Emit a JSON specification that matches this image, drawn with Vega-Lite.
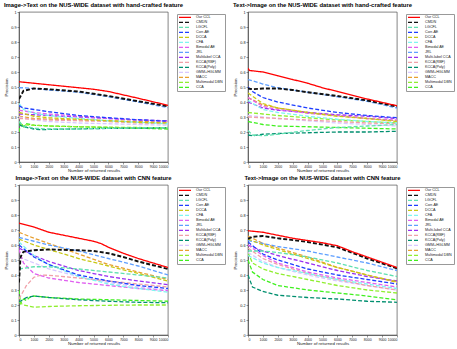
{
"$schema": "https://vega.github.io/schema/vega-lite/v6.json",
"padding": {"left": 3, "top": 1, "right": 0, "bottom": 0},
"background": "white",
"bounds": "flush",
"config": {
  "font": "Liberation Sans",
  "view": {"stroke": "#333", "strokeWidth": 0.6},
  "axis": {"grid": false, "labelFontSize": 3.8, "titleFontSize": 4.4, "titleFontWeight": "normal", "tickSize": 2, "tickColor": "#333", "domainColor": "#333", "labelColor": "#222", "titleColor": "#222", "labelPadding": 1, "titlePadding": 2, "domainWidth": 0.6, "tickWidth": 0.5, "labelOverlap": false},
  "axisX": {"labelFontSize": 3.5, "labelPadding": 0.5, "titlePadding": 0.5},
  "title": {"fontSize": 5.9, "fontWeight": "bold", "offset": 2, "color": "#000"},
  "legend": {"orient": "none", "legendX": 158, "legendY": 2, "padding": 1.5, "strokeColor": "#999", "fillColor": "white", "labelFontSize": 3.7, "symbolSize": 16, "symbolType": "M-3,0H3", "symbolOffset": 3.5, "labelOffset": 8, "symbolStrokeWidth": 1.4, "rowPadding": 0, "clipHeight": 3.7, "labelColor": "#222"}
},
"data": {"values": [
{"p":1,"s":"CCA","x":0,"y":0.20},{"p":1,"s":"CCA","x":100,"y":0.26},{"p":1,"s":"CCA","x":300,"y":0.235},{"p":1,"s":"CCA","x":500,"y":0.255},{"p":1,"s":"CCA","x":1000,"y":0.245},{"p":1,"s":"CCA","x":2000,"y":0.24},{"p":1,"s":"CCA","x":4000,"y":0.235},{"p":1,"s":"CCA","x":6000,"y":0.23},{"p":1,"s":"CCA","x":8000,"y":0.225},{"p":1,"s":"CCA","x":10000,"y":0.22},
{"p":1,"s":"Multimodal DBN","x":0,"y":0.25},{"p":1,"s":"Multimodal DBN","x":1000,"y":0.245},{"p":1,"s":"Multimodal DBN","x":2000,"y":0.24},{"p":1,"s":"Multimodal DBN","x":4000,"y":0.235},{"p":1,"s":"Multimodal DBN","x":6000,"y":0.232},{"p":1,"s":"Multimodal DBN","x":8000,"y":0.23},{"p":1,"s":"Multimodal DBN","x":10000,"y":0.228},
{"p":1,"s":"MACC","x":0,"y":0.305},{"p":1,"s":"MACC","x":1000,"y":0.29},{"p":1,"s":"MACC","x":2000,"y":0.285},{"p":1,"s":"MACC","x":4000,"y":0.28},{"p":1,"s":"MACC","x":6000,"y":0.275},{"p":1,"s":"MACC","x":8000,"y":0.27},{"p":1,"s":"MACC","x":10000,"y":0.265},
{"p":1,"s":"GMM+HGLMM","x":0,"y":0.30},{"p":1,"s":"GMM+HGLMM","x":1000,"y":0.28},{"p":1,"s":"GMM+HGLMM","x":2000,"y":0.27},{"p":1,"s":"GMM+HGLMM","x":4000,"y":0.26},{"p":1,"s":"GMM+HGLMM","x":6000,"y":0.255},{"p":1,"s":"GMM+HGLMM","x":8000,"y":0.25},{"p":1,"s":"GMM+HGLMM","x":10000,"y":0.245},
{"p":1,"s":"KCCA(Poly)","x":0,"y":0.25},{"p":1,"s":"KCCA(Poly)","x":300,"y":0.235},{"p":1,"s":"KCCA(Poly)","x":1000,"y":0.22},{"p":1,"s":"KCCA(Poly)","x":1500,"y":0.215},{"p":1,"s":"KCCA(Poly)","x":2000,"y":0.217},{"p":1,"s":"KCCA(Poly)","x":4000,"y":0.221},{"p":1,"s":"KCCA(Poly)","x":6000,"y":0.224},{"p":1,"s":"KCCA(Poly)","x":8000,"y":0.226},{"p":1,"s":"KCCA(Poly)","x":10000,"y":0.228},
{"p":1,"s":"KCCA(RBF)","x":0,"y":0.29},{"p":1,"s":"KCCA(RBF)","x":1000,"y":0.285},{"p":1,"s":"KCCA(RBF)","x":2000,"y":0.28},{"p":1,"s":"KCCA(RBF)","x":4000,"y":0.275},{"p":1,"s":"KCCA(RBF)","x":6000,"y":0.27},{"p":1,"s":"KCCA(RBF)","x":8000,"y":0.26},{"p":1,"s":"KCCA(RBF)","x":10000,"y":0.255},
{"p":1,"s":"Multi-label CCA","x":0,"y":0.32},{"p":1,"s":"Multi-label CCA","x":1000,"y":0.315},{"p":1,"s":"Multi-label CCA","x":2000,"y":0.31},{"p":1,"s":"Multi-label CCA","x":4000,"y":0.30},{"p":1,"s":"Multi-label CCA","x":6000,"y":0.29},{"p":1,"s":"Multi-label CCA","x":8000,"y":0.28},{"p":1,"s":"Multi-label CCA","x":10000,"y":0.275},
{"p":1,"s":"JRL","x":0,"y":0.495},{"p":1,"s":"JRL","x":300,"y":0.495},{"p":1,"s":"JRL","x":1000,"y":0.49},{"p":1,"s":"JRL","x":2000,"y":0.48},{"p":1,"s":"JRL","x":4000,"y":0.465},{"p":1,"s":"JRL","x":6000,"y":0.435},{"p":1,"s":"JRL","x":8000,"y":0.40},{"p":1,"s":"JRL","x":10000,"y":0.362},
{"p":1,"s":"Bimodal AE","x":0,"y":0.345},{"p":1,"s":"Bimodal AE","x":1000,"y":0.33},{"p":1,"s":"Bimodal AE","x":2000,"y":0.32},{"p":1,"s":"Bimodal AE","x":4000,"y":0.305},{"p":1,"s":"Bimodal AE","x":6000,"y":0.29},{"p":1,"s":"Bimodal AE","x":8000,"y":0.28},{"p":1,"s":"Bimodal AE","x":10000,"y":0.27},
{"p":1,"s":"CFA","x":0,"y":0.39},{"p":1,"s":"CFA","x":300,"y":0.35},{"p":1,"s":"CFA","x":1000,"y":0.325},{"p":1,"s":"CFA","x":2000,"y":0.31},{"p":1,"s":"CFA","x":4000,"y":0.29},{"p":1,"s":"CFA","x":6000,"y":0.275},{"p":1,"s":"CFA","x":8000,"y":0.265},{"p":1,"s":"CFA","x":10000,"y":0.255},
{"p":1,"s":"DCCA","x":0,"y":0.33},{"p":1,"s":"DCCA","x":1000,"y":0.305},{"p":1,"s":"DCCA","x":2000,"y":0.295},{"p":1,"s":"DCCA","x":4000,"y":0.285},{"p":1,"s":"DCCA","x":6000,"y":0.275},{"p":1,"s":"DCCA","x":8000,"y":0.265},{"p":1,"s":"DCCA","x":10000,"y":0.26},
{"p":1,"s":"Corr-AE","x":0,"y":0.375},{"p":1,"s":"Corr-AE","x":300,"y":0.36},{"p":1,"s":"Corr-AE","x":1000,"y":0.35},{"p":1,"s":"Corr-AE","x":2000,"y":0.335},{"p":1,"s":"Corr-AE","x":4000,"y":0.31},{"p":1,"s":"Corr-AE","x":6000,"y":0.295},{"p":1,"s":"Corr-AE","x":8000,"y":0.282},{"p":1,"s":"Corr-AE","x":10000,"y":0.272},
{"p":1,"s":"LGCFL","x":0,"y":0.27},{"p":1,"s":"LGCFL","x":300,"y":0.24},{"p":1,"s":"LGCFL","x":1000,"y":0.225},{"p":1,"s":"LGCFL","x":2000,"y":0.22},{"p":1,"s":"LGCFL","x":4000,"y":0.22},{"p":1,"s":"LGCFL","x":6000,"y":0.225},{"p":1,"s":"LGCFL","x":8000,"y":0.228},{"p":1,"s":"LGCFL","x":10000,"y":0.23},
{"p":1,"s":"CMDN","x":0,"y":0.42},{"p":1,"s":"CMDN","x":300,"y":0.475},{"p":1,"s":"CMDN","x":1000,"y":0.49},{"p":1,"s":"CMDN","x":2000,"y":0.485},{"p":1,"s":"CMDN","x":4000,"y":0.47},{"p":1,"s":"CMDN","x":6000,"y":0.44},{"p":1,"s":"CMDN","x":8000,"y":0.405},{"p":1,"s":"CMDN","x":10000,"y":0.372},
{"p":1,"s":"Our CCL","x":0,"y":0.535},{"p":1,"s":"Our CCL","x":1000,"y":0.525},{"p":1,"s":"Our CCL","x":2000,"y":0.515},{"p":1,"s":"Our CCL","x":4000,"y":0.495},{"p":1,"s":"Our CCL","x":5000,"y":0.485},{"p":1,"s":"Our CCL","x":6000,"y":0.47},{"p":1,"s":"Our CCL","x":8000,"y":0.425},{"p":1,"s":"Our CCL","x":10000,"y":0.378},

{"p":2,"s":"CCA","x":0,"y":0.27},{"p":2,"s":"CCA","x":1000,"y":0.25},{"p":2,"s":"CCA","x":2000,"y":0.24},{"p":2,"s":"CCA","x":4000,"y":0.235},{"p":2,"s":"CCA","x":6000,"y":0.23},{"p":2,"s":"CCA","x":8000,"y":0.225},{"p":2,"s":"CCA","x":10000,"y":0.22},
{"p":2,"s":"Multimodal DBN","x":0,"y":0.33},{"p":2,"s":"Multimodal DBN","x":1000,"y":0.32},{"p":2,"s":"Multimodal DBN","x":2000,"y":0.31},{"p":2,"s":"Multimodal DBN","x":4000,"y":0.295},{"p":2,"s":"Multimodal DBN","x":6000,"y":0.28},{"p":2,"s":"Multimodal DBN","x":8000,"y":0.27},{"p":2,"s":"Multimodal DBN","x":10000,"y":0.26},
{"p":2,"s":"MACC","x":0,"y":0.43},{"p":2,"s":"MACC","x":1000,"y":0.38},{"p":2,"s":"MACC","x":2000,"y":0.36},{"p":2,"s":"MACC","x":4000,"y":0.33},{"p":2,"s":"MACC","x":6000,"y":0.31},{"p":2,"s":"MACC","x":8000,"y":0.29},{"p":2,"s":"MACC","x":10000,"y":0.275},
{"p":2,"s":"GMM+HGLMM","x":0,"y":0.31},{"p":2,"s":"GMM+HGLMM","x":1000,"y":0.30},{"p":2,"s":"GMM+HGLMM","x":2000,"y":0.29},{"p":2,"s":"GMM+HGLMM","x":4000,"y":0.275},{"p":2,"s":"GMM+HGLMM","x":6000,"y":0.26},{"p":2,"s":"GMM+HGLMM","x":8000,"y":0.25},{"p":2,"s":"GMM+HGLMM","x":10000,"y":0.24},
{"p":2,"s":"KCCA(Poly)","x":0,"y":0.18},{"p":2,"s":"KCCA(Poly)","x":300,"y":0.175},{"p":2,"s":"KCCA(Poly)","x":1000,"y":0.185},{"p":2,"s":"KCCA(Poly)","x":2000,"y":0.19},{"p":2,"s":"KCCA(Poly)","x":4000,"y":0.195},{"p":2,"s":"KCCA(Poly)","x":6000,"y":0.20},{"p":2,"s":"KCCA(Poly)","x":8000,"y":0.20},{"p":2,"s":"KCCA(Poly)","x":10000,"y":0.205},
{"p":2,"s":"KCCA(RBF)","x":0,"y":0.30},{"p":2,"s":"KCCA(RBF)","x":1000,"y":0.295},{"p":2,"s":"KCCA(RBF)","x":2000,"y":0.29},{"p":2,"s":"KCCA(RBF)","x":4000,"y":0.28},{"p":2,"s":"KCCA(RBF)","x":6000,"y":0.27},{"p":2,"s":"KCCA(RBF)","x":8000,"y":0.26},{"p":2,"s":"KCCA(RBF)","x":10000,"y":0.255},
{"p":2,"s":"Multi-label CCA","x":0,"y":0.40},{"p":2,"s":"Multi-label CCA","x":1000,"y":0.36},{"p":2,"s":"Multi-label CCA","x":2000,"y":0.345},{"p":2,"s":"Multi-label CCA","x":4000,"y":0.33},{"p":2,"s":"Multi-label CCA","x":6000,"y":0.315},{"p":2,"s":"Multi-label CCA","x":8000,"y":0.305},{"p":2,"s":"Multi-label CCA","x":10000,"y":0.29},
{"p":2,"s":"JRL","x":0,"y":0.55},{"p":2,"s":"JRL","x":1000,"y":0.52},{"p":2,"s":"JRL","x":2000,"y":0.495},{"p":2,"s":"JRL","x":4000,"y":0.465},{"p":2,"s":"JRL","x":6000,"y":0.435},{"p":2,"s":"JRL","x":8000,"y":0.405},{"p":2,"s":"JRL","x":10000,"y":0.36},
{"p":2,"s":"Bimodal AE","x":0,"y":0.43},{"p":2,"s":"Bimodal AE","x":1000,"y":0.37},{"p":2,"s":"Bimodal AE","x":2000,"y":0.35},{"p":2,"s":"Bimodal AE","x":4000,"y":0.325},{"p":2,"s":"Bimodal AE","x":6000,"y":0.31},{"p":2,"s":"Bimodal AE","x":8000,"y":0.29},{"p":2,"s":"Bimodal AE","x":10000,"y":0.28},
{"p":2,"s":"CFA","x":0,"y":0.41},{"p":2,"s":"CFA","x":1000,"y":0.35},{"p":2,"s":"CFA","x":2000,"y":0.33},{"p":2,"s":"CFA","x":4000,"y":0.305},{"p":2,"s":"CFA","x":6000,"y":0.285},{"p":2,"s":"CFA","x":8000,"y":0.27},{"p":2,"s":"CFA","x":10000,"y":0.26},
{"p":2,"s":"DCCA","x":0,"y":0.46},{"p":2,"s":"DCCA","x":1000,"y":0.39},{"p":2,"s":"DCCA","x":2000,"y":0.36},{"p":2,"s":"DCCA","x":4000,"y":0.33},{"p":2,"s":"DCCA","x":6000,"y":0.305},{"p":2,"s":"DCCA","x":8000,"y":0.29},{"p":2,"s":"DCCA","x":10000,"y":0.27},
{"p":2,"s":"Corr-AE","x":0,"y":0.50},{"p":2,"s":"Corr-AE","x":300,"y":0.47},{"p":2,"s":"Corr-AE","x":1000,"y":0.43},{"p":2,"s":"Corr-AE","x":2000,"y":0.40},{"p":2,"s":"Corr-AE","x":4000,"y":0.36},{"p":2,"s":"Corr-AE","x":6000,"y":0.33},{"p":2,"s":"Corr-AE","x":8000,"y":0.31},{"p":2,"s":"Corr-AE","x":10000,"y":0.295},
{"p":2,"s":"LGCFL","x":0,"y":0.21},{"p":2,"s":"LGCFL","x":300,"y":0.18},{"p":2,"s":"LGCFL","x":1000,"y":0.175},{"p":2,"s":"LGCFL","x":2000,"y":0.185},{"p":2,"s":"LGCFL","x":4000,"y":0.21},{"p":2,"s":"LGCFL","x":6000,"y":0.23},{"p":2,"s":"LGCFL","x":8000,"y":0.24},{"p":2,"s":"LGCFL","x":10000,"y":0.25},
{"p":2,"s":"CMDN","x":0,"y":0.49},{"p":2,"s":"CMDN","x":300,"y":0.485},{"p":2,"s":"CMDN","x":1000,"y":0.49},{"p":2,"s":"CMDN","x":2000,"y":0.49},{"p":2,"s":"CMDN","x":3000,"y":0.48},{"p":2,"s":"CMDN","x":4000,"y":0.465},{"p":2,"s":"CMDN","x":6000,"y":0.44},{"p":2,"s":"CMDN","x":8000,"y":0.41},{"p":2,"s":"CMDN","x":10000,"y":0.37},
{"p":2,"s":"Our CCL","x":0,"y":0.625},{"p":2,"s":"Our CCL","x":100,"y":0.61},{"p":2,"s":"Our CCL","x":1000,"y":0.60},{"p":2,"s":"Our CCL","x":2000,"y":0.575},{"p":2,"s":"Our CCL","x":3000,"y":0.55},{"p":2,"s":"Our CCL","x":4000,"y":0.525},{"p":2,"s":"Our CCL","x":5000,"y":0.495},{"p":2,"s":"Our CCL","x":6000,"y":0.47},{"p":2,"s":"Our CCL","x":8000,"y":0.42},{"p":2,"s":"Our CCL","x":10000,"y":0.375},

{"p":3,"s":"CCA","x":0,"y":0.30},{"p":3,"s":"CCA","x":100,"y":0.21},{"p":3,"s":"CCA","x":300,"y":0.24},{"p":3,"s":"CCA","x":500,"y":0.23},{"p":3,"s":"CCA","x":700,"y":0.25},{"p":3,"s":"CCA","x":1000,"y":0.26},{"p":3,"s":"CCA","x":2000,"y":0.25},{"p":3,"s":"CCA","x":4000,"y":0.24},{"p":3,"s":"CCA","x":6000,"y":0.235},{"p":3,"s":"CCA","x":8000,"y":0.23},{"p":3,"s":"CCA","x":10000,"y":0.225},
{"p":3,"s":"Multimodal DBN","x":0,"y":0.22},{"p":3,"s":"Multimodal DBN","x":300,"y":0.20},{"p":3,"s":"Multimodal DBN","x":1000,"y":0.185},{"p":3,"s":"Multimodal DBN","x":2000,"y":0.19},{"p":3,"s":"Multimodal DBN","x":4000,"y":0.195},{"p":3,"s":"Multimodal DBN","x":6000,"y":0.198},{"p":3,"s":"Multimodal DBN","x":8000,"y":0.20},{"p":3,"s":"Multimodal DBN","x":10000,"y":0.20},
{"p":3,"s":"MACC","x":0,"y":0.685},{"p":3,"s":"MACC","x":1000,"y":0.645},{"p":3,"s":"MACC","x":2000,"y":0.61},{"p":3,"s":"MACC","x":4000,"y":0.54},{"p":3,"s":"MACC","x":6000,"y":0.47},{"p":3,"s":"MACC","x":8000,"y":0.42},{"p":3,"s":"MACC","x":10000,"y":0.37},
{"p":3,"s":"GMM+HGLMM","x":0,"y":0.52},{"p":3,"s":"GMM+HGLMM","x":1000,"y":0.48},{"p":3,"s":"GMM+HGLMM","x":2000,"y":0.44},{"p":3,"s":"GMM+HGLMM","x":4000,"y":0.39},{"p":3,"s":"GMM+HGLMM","x":6000,"y":0.35},{"p":3,"s":"GMM+HGLMM","x":8000,"y":0.32},{"p":3,"s":"GMM+HGLMM","x":10000,"y":0.30},
{"p":3,"s":"KCCA(Poly)","x":0,"y":0.22},{"p":3,"s":"KCCA(Poly)","x":500,"y":0.25},{"p":3,"s":"KCCA(Poly)","x":1000,"y":0.26},{"p":3,"s":"KCCA(Poly)","x":2000,"y":0.25},{"p":3,"s":"KCCA(Poly)","x":4000,"y":0.235},{"p":3,"s":"KCCA(Poly)","x":6000,"y":0.225},{"p":3,"s":"KCCA(Poly)","x":8000,"y":0.218},{"p":3,"s":"KCCA(Poly)","x":10000,"y":0.215},
{"p":3,"s":"KCCA(RBF)","x":0,"y":0.24},{"p":3,"s":"KCCA(RBF)","x":500,"y":0.33},{"p":3,"s":"KCCA(RBF)","x":1000,"y":0.385},{"p":3,"s":"KCCA(RBF)","x":1500,"y":0.40},{"p":3,"s":"KCCA(RBF)","x":2000,"y":0.398},{"p":3,"s":"KCCA(RBF)","x":4000,"y":0.38},{"p":3,"s":"KCCA(RBF)","x":6000,"y":0.36},{"p":3,"s":"KCCA(RBF)","x":8000,"y":0.34},{"p":3,"s":"KCCA(RBF)","x":10000,"y":0.32},
{"p":3,"s":"Multi-label CCA","x":0,"y":0.58},{"p":3,"s":"Multi-label CCA","x":1000,"y":0.53},{"p":3,"s":"Multi-label CCA","x":2000,"y":0.49},{"p":3,"s":"Multi-label CCA","x":4000,"y":0.43},{"p":3,"s":"Multi-label CCA","x":6000,"y":0.39},{"p":3,"s":"Multi-label CCA","x":8000,"y":0.36},{"p":3,"s":"Multi-label CCA","x":10000,"y":0.335},
{"p":3,"s":"JRL","x":0,"y":0.65},{"p":3,"s":"JRL","x":1000,"y":0.625},{"p":3,"s":"JRL","x":2000,"y":0.60},{"p":3,"s":"JRL","x":4000,"y":0.56},{"p":3,"s":"JRL","x":6000,"y":0.51},{"p":3,"s":"JRL","x":8000,"y":0.46},{"p":3,"s":"JRL","x":10000,"y":0.40},
{"p":3,"s":"Bimodal AE","x":0,"y":0.57},{"p":3,"s":"Bimodal AE","x":300,"y":0.48},{"p":3,"s":"Bimodal AE","x":1000,"y":0.41},{"p":3,"s":"Bimodal AE","x":2000,"y":0.38},{"p":3,"s":"Bimodal AE","x":4000,"y":0.35},{"p":3,"s":"Bimodal AE","x":6000,"y":0.33},{"p":3,"s":"Bimodal AE","x":8000,"y":0.31},{"p":3,"s":"Bimodal AE","x":10000,"y":0.295},
{"p":3,"s":"CFA","x":0,"y":0.62},{"p":3,"s":"CFA","x":1000,"y":0.53},{"p":3,"s":"CFA","x":2000,"y":0.47},{"p":3,"s":"CFA","x":4000,"y":0.39},{"p":3,"s":"CFA","x":6000,"y":0.34},{"p":3,"s":"CFA","x":8000,"y":0.31},{"p":3,"s":"CFA","x":10000,"y":0.285},
{"p":3,"s":"DCCA","x":0,"y":0.64},{"p":3,"s":"DCCA","x":1000,"y":0.60},{"p":3,"s":"DCCA","x":2000,"y":0.57},{"p":3,"s":"DCCA","x":4000,"y":0.51},{"p":3,"s":"DCCA","x":6000,"y":0.46},{"p":3,"s":"DCCA","x":8000,"y":0.41},{"p":3,"s":"DCCA","x":10000,"y":0.36},
{"p":3,"s":"Corr-AE","x":0,"y":0.60},{"p":3,"s":"Corr-AE","x":1000,"y":0.52},{"p":3,"s":"Corr-AE","x":2000,"y":0.47},{"p":3,"s":"Corr-AE","x":4000,"y":0.40},{"p":3,"s":"Corr-AE","x":6000,"y":0.36},{"p":3,"s":"Corr-AE","x":8000,"y":0.33},{"p":3,"s":"Corr-AE","x":10000,"y":0.31},
{"p":3,"s":"LGCFL","x":0,"y":0.44},{"p":3,"s":"LGCFL","x":1000,"y":0.455},{"p":3,"s":"LGCFL","x":2000,"y":0.455},{"p":3,"s":"LGCFL","x":4000,"y":0.44},{"p":3,"s":"LGCFL","x":6000,"y":0.42},{"p":3,"s":"LGCFL","x":8000,"y":0.40},{"p":3,"s":"LGCFL","x":10000,"y":0.38},
{"p":3,"s":"CMDN","x":0,"y":0.35},{"p":3,"s":"CMDN","x":100,"y":0.52},{"p":3,"s":"CMDN","x":300,"y":0.555},{"p":3,"s":"CMDN","x":1000,"y":0.565},{"p":3,"s":"CMDN","x":2000,"y":0.57},{"p":3,"s":"CMDN","x":4000,"y":0.565},{"p":3,"s":"CMDN","x":5000,"y":0.56},{"p":3,"s":"CMDN","x":6000,"y":0.545},{"p":3,"s":"CMDN","x":7000,"y":0.52},{"p":3,"s":"CMDN","x":8000,"y":0.49},{"p":3,"s":"CMDN","x":9000,"y":0.465},{"p":3,"s":"CMDN","x":10000,"y":0.44},
{"p":3,"s":"Our CCL","x":0,"y":0.745},{"p":3,"s":"Our CCL","x":1000,"y":0.72},{"p":3,"s":"Our CCL","x":2000,"y":0.685},{"p":3,"s":"Our CCL","x":3000,"y":0.665},{"p":3,"s":"Our CCL","x":4000,"y":0.645},{"p":3,"s":"Our CCL","x":5000,"y":0.625},{"p":3,"s":"Our CCL","x":5500,"y":0.61},{"p":3,"s":"Our CCL","x":6000,"y":0.585},{"p":3,"s":"Our CCL","x":7000,"y":0.545},{"p":3,"s":"Our CCL","x":8000,"y":0.51},{"p":3,"s":"Our CCL","x":9000,"y":0.48},{"p":3,"s":"Our CCL","x":10000,"y":0.45},

{"p":4,"s":"CCA","x":0,"y":0.50},{"p":4,"s":"CCA","x":300,"y":0.42},{"p":4,"s":"CCA","x":1000,"y":0.37},{"p":4,"s":"CCA","x":2000,"y":0.33},{"p":4,"s":"CCA","x":4000,"y":0.30},{"p":4,"s":"CCA","x":6000,"y":0.28},{"p":4,"s":"CCA","x":8000,"y":0.26},{"p":4,"s":"CCA","x":10000,"y":0.235},
{"p":4,"s":"Multimodal DBN","x":0,"y":0.55},{"p":4,"s":"Multimodal DBN","x":300,"y":0.48},{"p":4,"s":"Multimodal DBN","x":1000,"y":0.44},{"p":4,"s":"Multimodal DBN","x":2000,"y":0.41},{"p":4,"s":"Multimodal DBN","x":4000,"y":0.37},{"p":4,"s":"Multimodal DBN","x":6000,"y":0.33},{"p":4,"s":"Multimodal DBN","x":8000,"y":0.30},{"p":4,"s":"Multimodal DBN","x":10000,"y":0.28},
{"p":4,"s":"MACC","x":0,"y":0.66},{"p":4,"s":"MACC","x":1000,"y":0.61},{"p":4,"s":"MACC","x":2000,"y":0.58},{"p":4,"s":"MACC","x":4000,"y":0.52},{"p":4,"s":"MACC","x":6000,"y":0.45},{"p":4,"s":"MACC","x":8000,"y":0.40},{"p":4,"s":"MACC","x":10000,"y":0.35},
{"p":4,"s":"GMM+HGLMM","x":0,"y":0.55},{"p":4,"s":"GMM+HGLMM","x":1000,"y":0.49},{"p":4,"s":"GMM+HGLMM","x":2000,"y":0.45},{"p":4,"s":"GMM+HGLMM","x":4000,"y":0.40},{"p":4,"s":"GMM+HGLMM","x":6000,"y":0.36},{"p":4,"s":"GMM+HGLMM","x":8000,"y":0.33},{"p":4,"s":"GMM+HGLMM","x":10000,"y":0.30},
{"p":4,"s":"KCCA(Poly)","x":0,"y":0.40},{"p":4,"s":"KCCA(Poly)","x":300,"y":0.32},{"p":4,"s":"KCCA(Poly)","x":1000,"y":0.29},{"p":4,"s":"KCCA(Poly)","x":2000,"y":0.265},{"p":4,"s":"KCCA(Poly)","x":4000,"y":0.25},{"p":4,"s":"KCCA(Poly)","x":6000,"y":0.24},{"p":4,"s":"KCCA(Poly)","x":8000,"y":0.225},{"p":4,"s":"KCCA(Poly)","x":10000,"y":0.218},
{"p":4,"s":"KCCA(RBF)","x":0,"y":0.58},{"p":4,"s":"KCCA(RBF)","x":1000,"y":0.51},{"p":4,"s":"KCCA(RBF)","x":2000,"y":0.47},{"p":4,"s":"KCCA(RBF)","x":4000,"y":0.41},{"p":4,"s":"KCCA(RBF)","x":6000,"y":0.37},{"p":4,"s":"KCCA(RBF)","x":8000,"y":0.33},{"p":4,"s":"KCCA(RBF)","x":10000,"y":0.30},
{"p":4,"s":"Multi-label CCA","x":0,"y":0.60},{"p":4,"s":"Multi-label CCA","x":1000,"y":0.56},{"p":4,"s":"Multi-label CCA","x":2000,"y":0.53},{"p":4,"s":"Multi-label CCA","x":4000,"y":0.48},{"p":4,"s":"Multi-label CCA","x":6000,"y":0.43},{"p":4,"s":"Multi-label CCA","x":8000,"y":0.39},{"p":4,"s":"Multi-label CCA","x":10000,"y":0.36},
{"p":4,"s":"JRL","x":0,"y":0.63},{"p":4,"s":"JRL","x":1000,"y":0.61},{"p":4,"s":"JRL","x":2000,"y":0.59},{"p":4,"s":"JRL","x":4000,"y":0.56},{"p":4,"s":"JRL","x":6000,"y":0.52},{"p":4,"s":"JRL","x":8000,"y":0.48},{"p":4,"s":"JRL","x":10000,"y":0.43},
{"p":4,"s":"Bimodal AE","x":0,"y":0.60},{"p":4,"s":"Bimodal AE","x":1000,"y":0.53},{"p":4,"s":"Bimodal AE","x":2000,"y":0.48},{"p":4,"s":"Bimodal AE","x":4000,"y":0.42},{"p":4,"s":"Bimodal AE","x":6000,"y":0.38},{"p":4,"s":"Bimodal AE","x":8000,"y":0.35},{"p":4,"s":"Bimodal AE","x":10000,"y":0.32},
{"p":4,"s":"CFA","x":0,"y":0.53},{"p":4,"s":"CFA","x":1000,"y":0.48},{"p":4,"s":"CFA","x":2000,"y":0.45},{"p":4,"s":"CFA","x":4000,"y":0.41},{"p":4,"s":"CFA","x":6000,"y":0.37},{"p":4,"s":"CFA","x":8000,"y":0.34},{"p":4,"s":"CFA","x":10000,"y":0.31},
{"p":4,"s":"DCCA","x":0,"y":0.64},{"p":4,"s":"DCCA","x":1000,"y":0.60},{"p":4,"s":"DCCA","x":2000,"y":0.57},{"p":4,"s":"DCCA","x":4000,"y":0.51},{"p":4,"s":"DCCA","x":6000,"y":0.45},{"p":4,"s":"DCCA","x":8000,"y":0.40},{"p":4,"s":"DCCA","x":10000,"y":0.355},
{"p":4,"s":"Corr-AE","x":0,"y":0.62},{"p":4,"s":"Corr-AE","x":1000,"y":0.54},{"p":4,"s":"Corr-AE","x":2000,"y":0.50},{"p":4,"s":"Corr-AE","x":4000,"y":0.44},{"p":4,"s":"Corr-AE","x":6000,"y":0.40},{"p":4,"s":"Corr-AE","x":8000,"y":0.37},{"p":4,"s":"Corr-AE","x":10000,"y":0.34},
{"p":4,"s":"LGCFL","x":0,"y":0.56},{"p":4,"s":"LGCFL","x":1000,"y":0.56},{"p":4,"s":"LGCFL","x":2000,"y":0.55},{"p":4,"s":"LGCFL","x":4000,"y":0.52},{"p":4,"s":"LGCFL","x":6000,"y":0.48},{"p":4,"s":"LGCFL","x":8000,"y":0.43},{"p":4,"s":"LGCFL","x":10000,"y":0.39},
{"p":4,"s":"CMDN","x":0,"y":0.64},{"p":4,"s":"CMDN","x":300,"y":0.655},{"p":4,"s":"CMDN","x":1000,"y":0.66},{"p":4,"s":"CMDN","x":2000,"y":0.645},{"p":4,"s":"CMDN","x":4000,"y":0.62},{"p":4,"s":"CMDN","x":6000,"y":0.585},{"p":4,"s":"CMDN","x":8000,"y":0.51},{"p":4,"s":"CMDN","x":10000,"y":0.445},
{"p":4,"s":"Our CCL","x":0,"y":0.695},{"p":4,"s":"Our CCL","x":1000,"y":0.685},{"p":4,"s":"Our CCL","x":2000,"y":0.665},{"p":4,"s":"Our CCL","x":3000,"y":0.645},{"p":4,"s":"Our CCL","x":4000,"y":0.63},{"p":4,"s":"Our CCL","x":5000,"y":0.615},{"p":4,"s":"Our CCL","x":6000,"y":0.595},{"p":4,"s":"Our CCL","x":7000,"y":0.555},{"p":4,"s":"Our CCL","x":8000,"y":0.52},{"p":4,"s":"Our CCL","x":9000,"y":0.485},{"p":4,"s":"Our CCL","x":10000,"y":0.45}
]},
"columns": 2,
"spacing": {"row": 23, "column": 80},
"resolve": {"scale": {"color": "independent", "strokeDash": "independent"}, "legend": {"color": "independent", "strokeDash": "independent"}},
"concat": [
{"title": "Image->Text on the NUS-WIDE dataset with hand-crafted feature", "width": 149, "height": 150, "transform": [{"filter": "datum.p == 1"}], "mark": {"type": "line", "clip": true},
 "encoding": {
  "x": {"field": "x", "type": "quantitative", "scale": {"domain": [0, 10000], "nice": false}, "axis": {"values": [0,1000,2000,3000,4000,5000,6000,7000,8000,9000,10000], "format": "d", "title": "Number of returned results"}},
  "y": {"field": "y", "type": "quantitative", "scale": {"domain": [0, 1], "nice": false}, "axis": {"values": [0,0.1,0.2,0.3,0.4,0.5,0.6,0.7,0.8,0.9,1], "labelExpr": "datum.value == 0 ? '0' : datum.value == 1 ? '1' : format(datum.value, '.1f')", "title": "Precision"}},
  "strokeWidth": {"condition": {"test": "datum.s == 'CMDN'", "value": 1.9}, "value": 1.3},
  "color": {"field": "s", "type": "nominal", "title": null, "scale": {"domain": ["Our CCL","CMDN","LGCFL","Corr-AE","DCCA","CFA","Bimodal AE","JRL","Multi-label CCA","KCCA(RBF)","KCCA(Poly)","GMM+HGLMM","MACC","Multimodal DBN","CCA"], "range": ["#ff0000","#111111","#5fe0b0","#1f3fff","#c8c814","#7ff5f0","#e060f0","#5f9fff","#9b30f0","#f0a0a8","#008f6f","#d8c8ff","#e8a030","#90ee30","#40f020"]}, "legend": {"labelExpr": "datum.label == 'Multi-label CCA' ? 'Multilabel CCA' : datum.label"}},
  "strokeDash": {"field": "s", "type": "nominal", "title": null, "scale": {"domain": ["Our CCL","CMDN","LGCFL","Corr-AE","DCCA","CFA","Bimodal AE","JRL","Multi-label CCA","KCCA(RBF)","KCCA(Poly)","GMM+HGLMM","MACC","Multimodal DBN","CCA"], "range": [[1,0],[4,2],[4,2],[4,2],[4,2],[4,2],[4,2],[4,2],[4,2],[4,2],[4,2],[4,2],[4,2],[4,2],[4,2]]}, "legend": {"labelExpr": "datum.label == 'Multi-label CCA' ? 'Multilabel CCA' : datum.label"}}
 }},
{"title": "Text->Image on the NUS-WIDE dataset with hand-crafted feature", "width": 149, "height": 150, "transform": [{"filter": "datum.p == 2"}], "mark": {"type": "line", "clip": true},
 "encoding": {
  "x": {"field": "x", "type": "quantitative", "scale": {"domain": [0, 10000], "nice": false}, "axis": {"values": [0,1000,2000,3000,4000,5000,6000,7000,8000,9000,10000], "format": "d", "title": "Number of returned results"}},
  "y": {"field": "y", "type": "quantitative", "scale": {"domain": [0, 1], "nice": false}, "axis": {"values": [0,0.1,0.2,0.3,0.4,0.5,0.6,0.7,0.8,0.9,1], "labelExpr": "datum.value == 0 ? '0' : datum.value == 1 ? '1' : format(datum.value, '.1f')", "title": "Precision"}},
  "strokeWidth": {"condition": {"test": "datum.s == 'CMDN'", "value": 1.9}, "value": 1.3},
  "color": {"field": "s", "type": "nominal", "title": null, "scale": {"domain": ["Our CCL","CMDN","LGCFL","Corr-AE","DCCA","CFA","Bimodal AE","JRL","Multi-label CCA","KCCA(RBF)","KCCA(Poly)","GMM+HGLMM","MACC","Multimodal DBN","CCA"], "range": ["#ff0000","#111111","#5fe0b0","#1f3fff","#c8c814","#7ff5f0","#e060f0","#5f9fff","#9b30f0","#f0a0a8","#008f6f","#d8c8ff","#e8a030","#90ee30","#40f020"]}},
  "strokeDash": {"field": "s", "type": "nominal", "title": null, "scale": {"domain": ["Our CCL","CMDN","LGCFL","Corr-AE","DCCA","CFA","Bimodal AE","JRL","Multi-label CCA","KCCA(RBF)","KCCA(Poly)","GMM+HGLMM","MACC","Multimodal DBN","CCA"], "range": [[1,0],[4,2],[4,2],[4,2],[4,2],[4,2],[4,2],[4,2],[4,2],[4,2],[4,2],[4,2],[4,2],[4,2],[4,2]]}}
 }},
{"title": "Image->Text on the NUS-WIDE dataset with CNN feature", "width": 149, "height": 150, "transform": [{"filter": "datum.p == 3"}], "mark": {"type": "line", "clip": true},
 "encoding": {
  "x": {"field": "x", "type": "quantitative", "scale": {"domain": [0, 10000], "nice": false}, "axis": {"values": [0,1000,2000,3000,4000,5000,6000,7000,8000,9000,10000], "format": "d", "title": "Number of returned results"}},
  "y": {"field": "y", "type": "quantitative", "scale": {"domain": [0, 1], "nice": false}, "axis": {"values": [0,0.1,0.2,0.3,0.4,0.5,0.6,0.7,0.8,0.9,1], "labelExpr": "datum.value == 0 ? '0' : datum.value == 1 ? '1' : format(datum.value, '.1f')", "title": "Precision"}},
  "strokeWidth": {"condition": {"test": "datum.s == 'CMDN'", "value": 1.9}, "value": 1.3},
  "color": {"field": "s", "type": "nominal", "title": null, "scale": {"domain": ["Our CCL","CMDN","LGCFL","Corr-AE","DCCA","CFA","Bimodal AE","JRL","Multi-label CCA","KCCA(RBF)","KCCA(Poly)","GMM+HGLMM","MACC","Multimodal DBN","CCA"], "range": ["#ff0000","#111111","#5fe0b0","#1f3fff","#c8c814","#7ff5f0","#e060f0","#5f9fff","#9b30f0","#f0a0a8","#008f6f","#d8c8ff","#e8a030","#90ee30","#40f020"]}, "legend": {"labelExpr": "datum.label == 'Multi-label CCA' ? 'Multilabel CCA' : datum.label"}},
  "strokeDash": {"field": "s", "type": "nominal", "title": null, "scale": {"domain": ["Our CCL","CMDN","LGCFL","Corr-AE","DCCA","CFA","Bimodal AE","JRL","Multi-label CCA","KCCA(RBF)","KCCA(Poly)","GMM+HGLMM","MACC","Multimodal DBN","CCA"], "range": [[1,0],[4,2],[4,2],[4,2],[4,2],[4,2],[4,2],[4,2],[4,2],[4,2],[4,2],[4,2],[4,2],[4,2],[4,2]]}, "legend": {"labelExpr": "datum.label == 'Multi-label CCA' ? 'Multilabel CCA' : datum.label"}}
 }},
{"title": "Text->Image on the NUS-WIDE dataset with CNN feature", "width": 149, "height": 150, "transform": [{"filter": "datum.p == 4"}], "mark": {"type": "line", "clip": true},
 "encoding": {
  "x": {"field": "x", "type": "quantitative", "scale": {"domain": [0, 10000], "nice": false}, "axis": {"values": [0,1000,2000,3000,4000,5000,6000,7000,8000,9000,10000], "format": "d", "title": "Number of returned results"}},
  "y": {"field": "y", "type": "quantitative", "scale": {"domain": [0, 1], "nice": false}, "axis": {"values": [0,0.1,0.2,0.3,0.4,0.5,0.6,0.7,0.8,0.9,1], "labelExpr": "datum.value == 0 ? '0' : datum.value == 1 ? '1' : format(datum.value, '.1f')", "title": "Precision"}},
  "strokeWidth": {"condition": {"test": "datum.s == 'CMDN'", "value": 1.9}, "value": 1.3},
  "color": {"field": "s", "type": "nominal", "title": null, "scale": {"domain": ["Our CCL","CMDN","LGCFL","Corr-AE","DCCA","CFA","Bimodal AE","JRL","Multi-label CCA","KCCA(RBF)","KCCA(Poly)","GMM+HGLMM","MACC","Multimodal DBN","CCA"], "range": ["#ff0000","#111111","#5fe0b0","#1f3fff","#c8c814","#7ff5f0","#e060f0","#5f9fff","#9b30f0","#f0a0a8","#008f6f","#d8c8ff","#e8a030","#90ee30","#40f020"]}},
  "strokeDash": {"field": "s", "type": "nominal", "title": null, "scale": {"domain": ["Our CCL","CMDN","LGCFL","Corr-AE","DCCA","CFA","Bimodal AE","JRL","Multi-label CCA","KCCA(RBF)","KCCA(Poly)","GMM+HGLMM","MACC","Multimodal DBN","CCA"], "range": [[1,0],[4,2],[4,2],[4,2],[4,2],[4,2],[4,2],[4,2],[4,2],[4,2],[4,2],[4,2],[4,2],[4,2],[4,2]]}}
 }}
]
}
